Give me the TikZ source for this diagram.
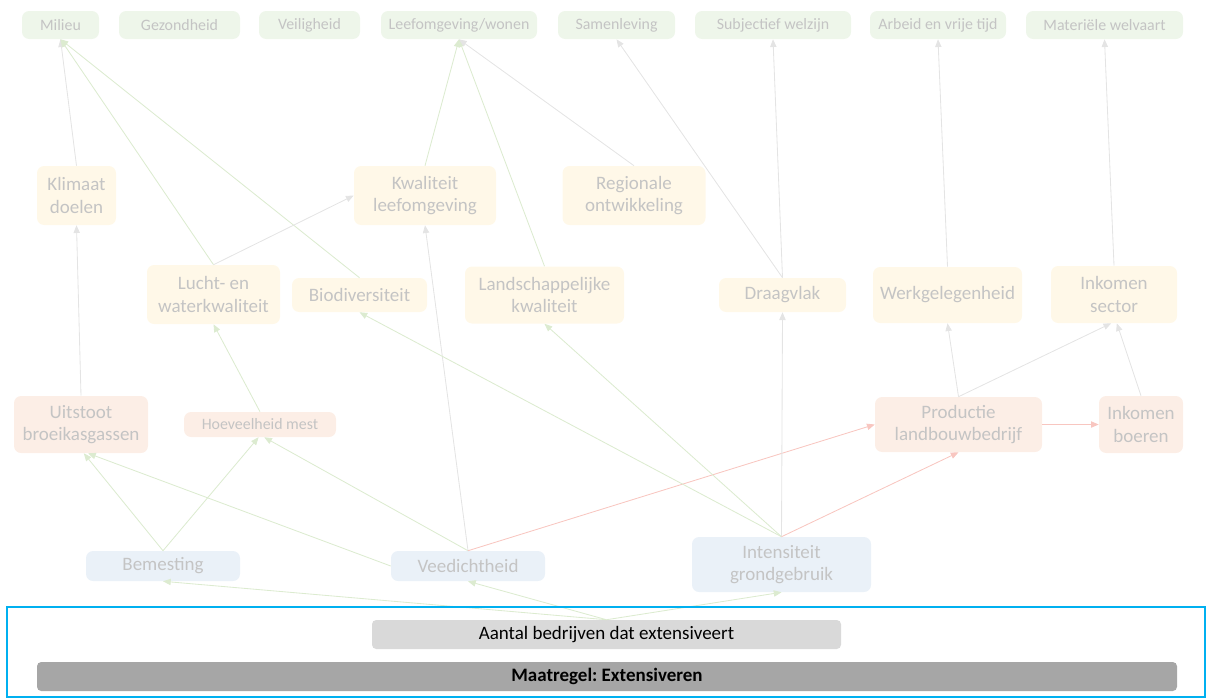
\documentclass[tikz,border=0pt]{standalone}
\usepackage{fontspec}
\setmainfont{Carlito}
\usepackage{xcolor}
\usetikzlibrary{arrows.meta, positioning}
\frenchspacing
\definecolor{txtgrey}{HTML}{C4C4C4}
\definecolor{goalgreen}{HTML}{EEF6EA}
\definecolor{aimyellow}{HTML}{FFF8E8}
\definecolor{effectred}{HTML}{FCEEE6}
\definecolor{leverblue}{HTML}{EAF1F8}
\definecolor{linegreen}{HTML}{DCEBD0}
\definecolor{linegrey}{HTML}{E4E4E4}
\definecolor{linered}{HTML}{F8C6C0}
\definecolor{framecyan}{HTML}{00B0F0}
\definecolor{countgrey}{HTML}{D9D9D9}
\definecolor{measuregrey}{HTML}{A6A6A6}

\begin{document}
\begin{tikzpicture}[
    x=0.025cm, y=-0.025cm,
    box/.style = {rectangle, rounded corners=5pt, align=center, inner sep=0pt,
                  text=txtgrey, font=\fontsize{13.5}{15.8}\selectfont},
    wh/.style 2 args = {minimum width=#1*0.025cm, minimum height=#2*0.025cm},
    goal/.style = {box, fill=goalgreen, font=\fontsize{11.3}{13.5}\selectfont},
    aim/.style = {box, fill=aimyellow},
    effect/.style = {box, fill=effectred},
    lever/.style = {box, fill=leverblue},
    bar/.style = {box, rounded corners=3pt, text=black},
    arrow/.style = {-{Triangle[length=5.5pt, width=4.5pt]}, line width=0.6pt},
    garrow/.style = {arrow, color=linegreen},
    narrow/.style = {arrow, color=linegrey},
    rarrow/.style = {arrow, color=linered}
  ]
  \useasboundingbox (0,0) rectangle (1208,699);

  \node[goal, wh={77}{28}]  (mil)   at (60.5,25)  {Milieu};
  \node[goal, wh={121}{28}] (gez)   at (179.5,25) {Gezondheid};
  \node[goal, wh={101}{28}] (veil)  at (309.5,25) {Veiligheid};
  \node[goal, wh={156}{28}] (leef)  at (459,25)   {Leefomgeving/wonen};
  \node[goal, wh={117}{28}] (samen) at (616.5,25) {Samenleving};
  \node[goal, wh={156}{28}] (subj)  at (773,25)   {Subjectief welzijn};
  \node[goal, wh={136}{28}] (arb)   at (938,25)   {Arbeid en vrije tijd};
  \node[goal, wh={157}{28}] (mat)   at (1104.5,25) {Materiële welvaart};

  \node[aim, wh={79}{59}]  (klim)  at (76.5,195.5) {Klimaat\\doelen};
  \node[aim, wh={142}{59}] (kwal)  at (425,195.5)  {Kwaliteit\\leefomgeving};
  \node[aim, wh={143}{59}] (regio) at (634,195.5)  {Regionale\\ontwikkeling};

  \node[aim, wh={133}{59}] (lucht) at (213.5,294.5) {Lucht- en\\waterkwaliteit};
  \node[aim, wh={135}{34}] (biod)  at (359.5,295)   {Biodiversiteit};
  \node[aim, wh={159}{57}] (land)  at (544.5,295)   {Landschappelijke\\kwaliteit};
  \node[aim, wh={127}{34}] (draag) at (782.5,295)   {Draagvlak};
  \node[aim, wh={149}{56}] (werk)  at (947.5,295)   {Werkgelegenheid};
  \node[aim, wh={126}{57}] (isect) at (1114,294.5)  {Inkomen\\sector};

  \node[effect, wh={134}{57}] (uit)  at (81,424.5)    {Uitstoot\\broeikasgassen};
  \node[effect, wh={152}{25}, font=\fontsize{11.3}{13.5}\selectfont] (mest) at (260,424.5) {Hoeveelheid mest};
  \node[effect, wh={167}{55}] (prod) at (958.5,424.5) {Productie\\landbouwbedrijf};
  \node[effect, wh={84}{57}]  (boer) at (1141,424.5)  {Inkomen\\boeren};

  \node[lever, wh={154}{30}] (bem) at (163,566)     {Bemesting};
  \node[lever, wh={154}{30}] (vee) at (468,566)     {Veedichtheid};
  \node[lever, wh={179}{55}] (int) at (781.5,564.5) {Intensiteit\\grondgebruik};

  \node[bar, fill=countgrey, wh={469}{29}] (aant) at (606.5,634.5) {Aantal bedrijven dat extensiveert};
  \node[bar, fill=measuregrey, wh={1140}{29}, font=\fontsize{13.5}{15.8}\selectfont\bfseries] (maat) at (607,676.5) {Maatregel: Extensiveren};

  \draw[narrow] (klim.north) -- (mil.south);
  \draw[garrow] (lucht.north) -- (mil.south);
  \draw[garrow] (biod.north) -- (mil.south);
  \draw[narrow] (lucht.north) -- (kwal.west);
  \draw[garrow] (kwal.north) -- (leef.south);
  \draw[garrow] (land.north) -- (leef.south);
  \draw[narrow] (regio.north) -- (leef.south);
  \draw[narrow] (draag.north) -- (samen.south);
  \draw[narrow] (draag.north) -- (subj.south);
  \draw[narrow] (werk.north) -- (arb.south);
  \draw[narrow] (isect.north) -- (mat.south);

  \draw[narrow] (uit.north) -- (klim.south);
  \draw[garrow] (mest.north) -- (lucht.south);
  \draw[narrow] (prod.north) -- (werk.south);
  \draw[narrow] (prod.north) -- ([xshift=-2pt]isect.south);
  \draw[narrow] (boer.north) -- ([xshift=2pt]isect.south);
  \draw[rarrow] (prod.east) -- (boer.west);

  \draw[garrow] (bem.north) -- ([xshift=2pt]uit.south);
  \draw[garrow] (bem.north) -- ([xshift=-1pt]mest.south);
  \draw[garrow] (vee.west) -- ([xshift=5pt]uit.south);
  \draw[garrow] (vee.north) -- ([xshift=3pt]mest.south);
  \draw[narrow] (vee.north) -- (kwal.south);
  \draw[rarrow] (vee.north) -- (prod.west);

  \draw[garrow] (int.north) -- (biod.south);
  \draw[garrow] (int.north) -- (land.south);
  \draw[narrow] (int.north) -- (draag.south);
  \draw[rarrow] (int.north) -- (prod.south);

  \draw[garrow] (aant.north) -- (bem.south);
  \draw[garrow] (aant.north) -- (vee.south);
  \draw[garrow] (aant.north) -- (int.south);

  \draw[framecyan, line width=2pt] (7,607) rectangle (1205,697);
\end{tikzpicture}
\end{document}
